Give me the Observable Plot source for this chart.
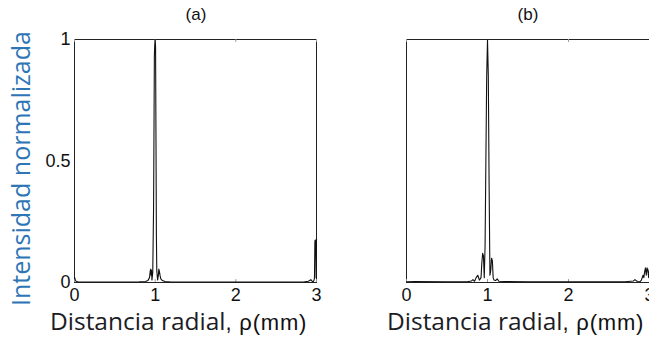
<!DOCTYPE html>
<html><head><meta charset="utf-8">
<script src="https://cdn.jsdelivr.net/npm/d3@7"></script>
<script src="https://cdn.jsdelivr.net/npm/@observablehq/plot@0.6"></script>
<style>
body{margin:0;background:#fff;overflow:hidden}
#wrap{position:relative;width:649px;height:340px;overflow:hidden;background:#fff}
.panel{position:absolute;top:0}
.title{position:absolute;font-family:"Liberation Sans",Arial,sans-serif;font-size:17px;color:#111;transform:translateX(-50%);line-height:20px}
.xlab{position:absolute;white-space:nowrap;color:#1c1c24;line-height:22px}
.xlab .main{font-family:"Open Sans",sans-serif;font-size:24.5px}
.xlab .unit{font-family:"Liberation Sans",Arial,sans-serif;font-size:22px;letter-spacing:0.8px;color:#111}
.ylab{position:absolute;white-space:nowrap;font-family:"Open Sans",sans-serif;font-size:25px;line-height:28px;color:#2e75b6;transform-origin:0 0;transform:rotate(-90deg)}
</style></head><body><div id="wrap"></div>
<script>
const xTicks = [0, 1, 2, 3];
const yTicks = [0, 0.5, 1];
const panelTitles = ["(a)", "(b)"];
const yLabel = "Intensidad normalizada";
const xLabel = "Distancia radial";
const xUnit = ", ρ(mm)";

// Panel (a): radial distance (mm) and normalized intensity
const rhoA = [0, 0.005, 0.01, 0.02, 0.04, 0.1, 0.5, 0.8, 0.88, 0.91, 0.93, 0.94, 0.945, 0.95, 0.955, 0.96, 0.97, 0.98, 0.985, 0.99, 0.995, 1.0, 1.005, 1.01, 1.015, 1.02, 1.03, 1.04, 1.045, 1.05, 1.06, 1.07, 1.09, 1.12, 1.2, 2.0, 2.85, 2.9, 2.93, 2.95, 2.96, 2.97, 2.975, 2.98, 2.985, 2.99, 2.995, 3.0];
const intA = [0.02, 0.018, 0.01, 0.005, 0.003, 0.002, 0.002, 0.003, 0.004, 0.008, 0.02, 0.05, 0.055, 0.03, 0.05, 0.01, 0.04, 0.3, 0.6, 0.93, 0.98, 1.0, 0.97, 0.6, 0.2, 0.05, 0.01, 0.03, 0.055, 0.05, 0.03, 0.015, 0.008, 0.004, 0.002, 0.002, 0.003, 0.005, 0.012, 0.004, 0.003, 0.01, 0.02, 0.17, 0.175, 0.17, 0.02, 0.18];

// Panel (b)
const rhoB = [0, 0.1, 0.5, 0.75, 0.8, 0.82, 0.84, 0.86, 0.88, 0.9, 0.92, 0.93, 0.94, 0.95, 0.96, 0.97, 0.98, 0.99, 1.0, 1.01, 1.02, 1.03, 1.04, 1.05, 1.06, 1.07, 1.08, 1.1, 1.12, 1.14, 1.2, 1.5, 2.0, 2.7, 2.8, 2.82, 2.85, 2.88, 2.9, 2.92, 2.93, 2.94, 2.95, 2.96, 2.97, 2.98, 2.99, 3.0];
const intB = [0.003, 0.004, 0.003, 0.003, 0.006, 0.012, 0.005, 0.02, 0.03, 0.01, 0.02, 0.08, 0.12, 0.11, 0.02, 0.15, 0.5, 0.85, 1.0, 0.85, 0.4, 0.03, 0.05, 0.1, 0.09, 0.02, 0.01, 0.008, 0.015, 0.005, 0.004, 0.003, 0.003, 0.003, 0.006, 0.012, 0.004, 0.003, 0.01, 0.03, 0.02, 0.045, 0.06, 0.03, 0.06, 0.05, 0.02, 0.06];

const wrap = document.getElementById("wrap");
const fmt = d => String(d);

function panel(rho, inten, opts) {
  const data = rho.map((r, i) => ({r, v: inten[i]}));
  const chart = Plot.plot({
    width: opts.width, height: 312,
    marginLeft: opts.ml, marginRight: opts.mr, marginTop: 39, marginBottom: 30,
    style: {fontFamily: "'Liberation Sans', Arial, sans-serif", fontSize: "18px", color: "#111", background: "transparent"},
    x: {domain: [0, 3], ticks: xTicks, tickFormat: fmt, tickSize: 0, tickPadding: 6, label: null},
    y: {domain: [0, 1], ticks: opts.showY ? yTicks : [], tickFormat: fmt, tickSize: 0, tickPadding: 4, label: null, axis: opts.showY ? "left" : null},
    marks: [
      Plot.frame({stroke: "#222", strokeWidth: 1}),
      Plot.ruleX(xTicks, {x: d => d, y1: 0, y2: 0.012, stroke: "#999"}),
      Plot.ruleX(xTicks, {x: d => d, y1: 0.988, y2: 1, stroke: "#999"}),
      Plot.line(data, {x: "r", y: "v", stroke: "#111", strokeWidth: 1.1})
    ]
  });
  chart.classList.add("panel");
  chart.style.left = opts.left + "px";
  wrap.appendChild(chart);
}

panel(rhoA, intA, {left: 0, width: 330, ml: 74, mr: 14, showY: true});
panel(rhoB, intB, {left: 330, width: 334, ml: 76, mr: 15, showY: false});

[[196, panelTitles[0]], [528, panelTitles[1]]].forEach(([x, t]) => {
  const d = document.createElement("div");
  d.className = "title"; d.textContent = t;
  d.style.left = x + "px"; d.style.top = "5px";
  wrap.appendChild(d);
});

[[50], [387]].forEach(([x]) => {
  const d = document.createElement("div");
  d.className = "xlab";
  d.innerHTML = `<span class="main"></span><span class="unit"></span>`;
  d.querySelector(".main").textContent = xLabel;
  d.querySelector(".unit").textContent = xUnit;
  d.style.left = x + "px"; d.style.top = "310px";
  wrap.appendChild(d);
});

const yl = document.createElement("div");
yl.className = "ylab"; yl.textContent = yLabel;
yl.style.left = "6px"; yl.style.top = "306px";
wrap.appendChild(yl);
</script>
</body></html>
